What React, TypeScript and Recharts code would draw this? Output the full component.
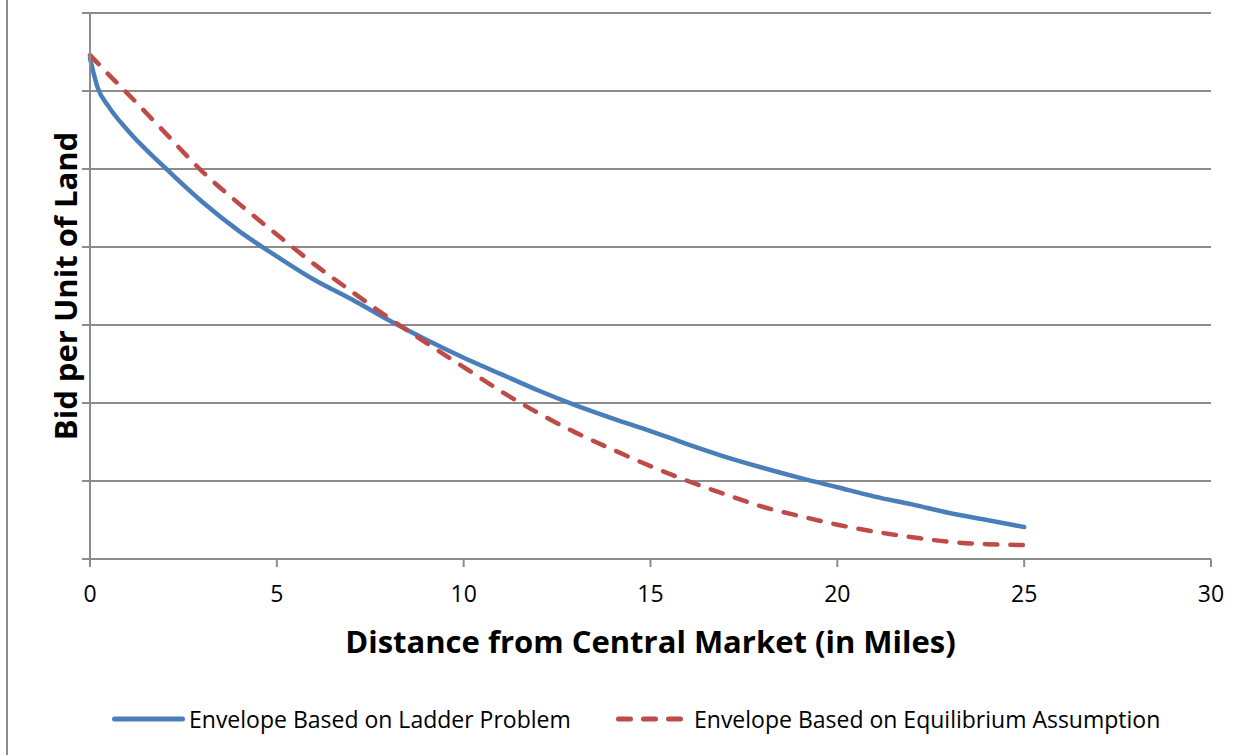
import React from 'react';
import { LineChart, Line, XAxis, YAxis, CartesianGrid, Legend, Label } from 'recharts';

// Distance from the central market, in miles
const distance = [0, 0.2, 0.5, 1, 2, 3, 4, 5, 6, 7, 8, 9, 10, 11, 12, 13, 14, 15, 16, 17, 18, 19, 20, 21, 22, 23, 24, 25];

// Bid-rent envelope derived from the ladder problem
const ladderEnvelope = [6.42, 6.05, 5.8, 5.5, 5.02, 4.58, 4.2, 3.88, 3.58, 3.33, 3.06, 2.81, 2.58, 2.37, 2.16, 1.97, 1.8, 1.64, 1.47, 1.31, 1.17, 1.04, 0.92, 0.8, 0.7, 0.59, 0.5, 0.41];

// Bid-rent envelope under the equilibrium assumption
const equilibriumEnvelope = [6.46, 6.36, 6.21, 5.97, 5.47, 4.97, 4.55, 4.16, 3.78, 3.43, 3.09, 2.77, 2.46, 2.15, 1.87, 1.62, 1.4, 1.19, 1.0, 0.83, 0.67, 0.55, 0.44, 0.35, 0.28, 0.22, 0.19, 0.18];

const xTicks = [0, 5, 10, 15, 20, 25, 30];
const yTicks = [0, 1, 2, 3, 4, 5, 6, 7];

const seriesNames = ['Envelope Based on Ladder Problem', 'Envelope Based on Equilibrium Assumption'];

const data = distance.map((d, i) => ({
  distance: d,
  ladder: ladderEnvelope[i],
  equilibrium: equilibriumEnvelope[i],
}));

const BLUE = '#4a7ebb';
const RED = '#be4b48';
const GRAY = '#8c8c8c';
const FONT = '"Open Sans", "Noto Sans", sans-serif';

const renderLegend = () => (
  <div style={{ position: 'relative', width: 1244, height: 30, fontFamily: FONT, fontSize: 23, color: '#000' }}>
    <div style={{ position: 'absolute', left: 112, top: 0, display: 'flex', alignItems: 'center', height: 30 }}>
      <svg width={73} height={10} style={{ marginRight: 4 }}>
        <line x1={2.5} y1={5} x2={70.5} y2={5} stroke={BLUE} strokeWidth={5} strokeLinecap="round" />
      </svg>
      <span style={{ whiteSpace: 'nowrap' }}>{seriesNames[0]}</span>
    </div>
    <div style={{ position: 'absolute', left: 616, top: 0, display: 'flex', alignItems: 'center', height: 30 }}>
      <svg width={67} height={10} style={{ marginRight: 11 }}>
        <line x1={2.5} y1={5} x2={64.5} y2={5} stroke={RED} strokeWidth={5} strokeLinecap="round" strokeDasharray="12 13" />
      </svg>
      <span style={{ whiteSpace: 'nowrap' }}>{seriesNames[1]}</span>
    </div>
  </div>
);

const YTitle = (props: any) => {
  const vb = props.viewBox;
  const cx = vb.x + vb.width - 25;
  const cy = vb.y + vb.height / 2;
  return (
    <text
      x={cx}
      y={cy}
      transform={`rotate(-90 ${cx} ${cy})`}
      textAnchor="middle"
      dominantBaseline="central"
      fontFamily={FONT}
      fontWeight={700}
      fontSize={31}
      fill="#000"
    >
      Bid per Unit of Land
    </text>
  );
};

const XTitle = (props: any) => {
  const vb = props.viewBox;
  const cx = vb.x + vb.width / 2;
  const cy = vb.y + 82;
  return (
    <text
      x={cx}
      y={cy}
      textAnchor="middle"
      dominantBaseline="central"
      fontFamily={FONT}
      fontWeight={700}
      fontSize={31}
      fill="#000"
    >
      Distance from Central Market (in Miles)
    </text>
  );
};

export default function App() {
  return (
    <div style={{ position: 'absolute', left: 0, top: 0, width: 1244, height: 755, background: '#fff' }}>
      <div style={{ position: 'absolute', left: 6, top: 0, width: 2, height: 755, background: GRAY }} />
      <LineChart
        width={1244}
        height={755}
        data={data}
        margin={{ top: 13, right: 33, left: 8, bottom: 96 }}
      >
        <CartesianGrid vertical={false} stroke={GRAY} strokeWidth={2} />
        <XAxis
          dataKey="distance"
          type="number"
          domain={[0, 30]}
          ticks={xTicks}
          height={100}
          axisLine={{ stroke: GRAY, strokeWidth: 2 }}
          tickLine={{ stroke: GRAY, strokeWidth: 2 }}
          tickSize={8}
          tickMargin={19}
          tick={{ fontFamily: FONT, fontSize: 23, fill: '#000' }}
          interval={0}
        >
          <Label content={XTitle} />
        </XAxis>
        <YAxis
          type="number"
          domain={[0, 7]}
          ticks={yTicks}
          width={82}
          axisLine={{ stroke: GRAY, strokeWidth: 2 }}
          tickLine={{ stroke: GRAY, strokeWidth: 2 }}
          tickSize={8}
          tickFormatter={() => ''}
          interval={0}
        >
          <Label content={YTitle} />
        </YAxis>
        <Legend
          layout="vertical"
          align="center"
          verticalAlign="middle"
          wrapperStyle={{ top: 704, left: 0, width: 1244 }}
          content={renderLegend}
        />
        <Line
          type="monotone"
          dataKey="ladder"
          name={seriesNames[0]}
          stroke={BLUE}
          strokeWidth={4.5}
          strokeLinecap="round"
          dot={false}
          activeDot={false}
          isAnimationActive={false}
        />
        <Line
          type="monotone"
          dataKey="equilibrium"
          name={seriesNames[1]}
          stroke={RED}
          strokeWidth={4.5}
          strokeLinecap="round"
          strokeDasharray="12.5 13"
          dot={false}
          activeDot={false}
          isAnimationActive={false}
        />
      </LineChart>
    </div>
  );
}
